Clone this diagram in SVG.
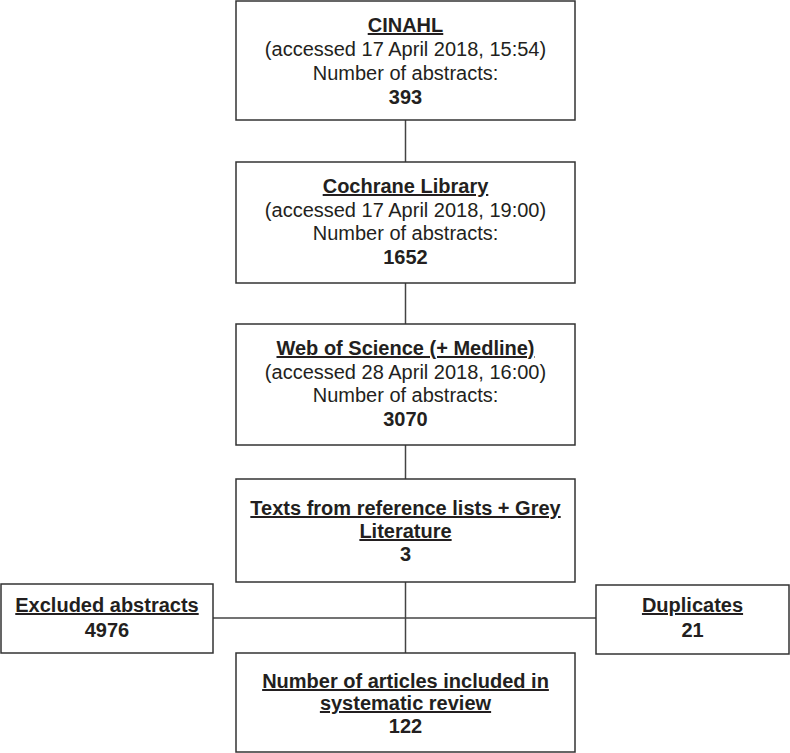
<svg xmlns="http://www.w3.org/2000/svg" width="790" height="753" viewBox="0 0 790 753">
<style>
.box{fill:#fff;stroke:#333;stroke-width:1.5}
.ln{stroke:#444;stroke-width:1.5;fill:none}
text{font-family:"Liberation Sans",Arial,sans-serif;font-size:20px;fill:#231f20;text-anchor:middle}
.h{font-weight:bold;text-decoration:underline}
.b{font-weight:bold}
</style>
<rect width="790" height="753" fill="#fff"/>
<g id="connectors">
<line class="ln" x1="405.5" y1="120" x2="405.5" y2="162"/>
<line class="ln" x1="405.5" y1="283" x2="405.5" y2="324"/>
<line class="ln" x1="405.5" y1="445" x2="405.5" y2="479"/>
<line class="ln" x1="405.5" y1="582" x2="405.5" y2="653"/>
<line class="ln" x1="213" y1="618" x2="596" y2="618"/>
</g>
<g id="cinahl">
<rect class="box" x="236" y="1" width="339" height="119"/>
<text class="h" x="405.5" y="32">CINAHL</text>
<text x="405.5" y="56">(accessed 17 April 2018, 15:54)</text>
<text x="405.5" y="80">Number of abstracts:</text>
<text class="b" x="405.5" y="104">393</text>
</g>
<g id="cochrane">
<rect class="box" x="236" y="162" width="339" height="121"/>
<text class="h" x="405.5" y="193">Cochrane Library</text>
<text x="405.5" y="216.5">(accessed 17 April 2018, 19:00)</text>
<text x="405.5" y="240">Number of abstracts:</text>
<text class="b" x="405.5" y="263.5">1652</text>
</g>
<g id="wos">
<rect class="box" x="236" y="324" width="339" height="121"/>
<text class="h" x="405.5" y="355">Web of Science (+ Medline)</text>
<text x="405.5" y="378.5">(accessed 28 April 2018, 16:00)</text>
<text x="405.5" y="402">Number of abstracts:</text>
<text class="b" x="405.5" y="425.5">3070</text>
</g>
<g id="texts">
<rect class="box" x="236" y="479" width="339" height="103"/>
<text class="h" x="405.5" y="515">Texts from reference lists + Grey</text>
<text class="h" x="405.5" y="538">Literature</text>
<text class="b" x="405.5" y="561">3</text>
</g>
<g id="excluded">
<rect class="box" x="1" y="584" width="212" height="69"/>
<text class="h" x="107" y="612">Excluded abstracts</text>
<text class="b" x="107" y="637">4976</text>
</g>
<g id="duplicates">
<rect class="box" x="596" y="585" width="193" height="69"/>
<text class="h" x="692.5" y="612">Duplicates</text>
<text class="b" x="692.5" y="637">21</text>
</g>
<g id="included">
<rect class="box" x="236" y="653" width="339" height="99"/>
<text class="h" x="405.5" y="688">Number of articles included in</text>
<text class="h" x="405.5" y="710">systematic review</text>
<text class="b" x="405.5" y="733">122</text>
</g>
</svg>
